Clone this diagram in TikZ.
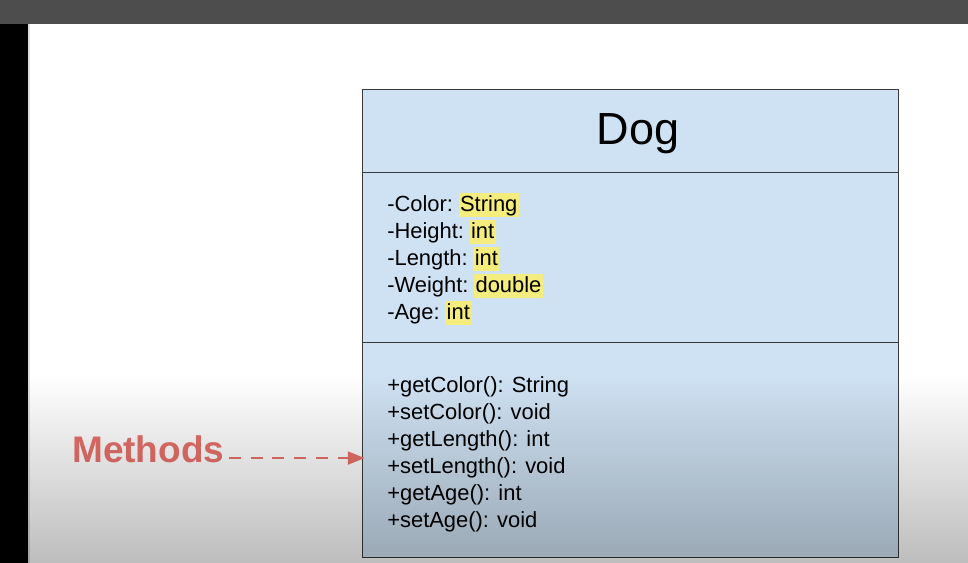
\documentclass[tikz,border=0pt]{standalone}
\usepackage{fontspec}
\setmainfont{Liberation Sans}
\usetikzlibrary{arrows.meta, positioning, fadings}
\definecolor{umlfill}{HTML}{CFE2F3}
\definecolor{umlline}{HTML}{3A3A3A}
\definecolor{hlyellow}{HTML}{F4EC7C}
\definecolor{mred}{HTML}{E8716B}
\definecolor{topbar}{HTML}{4D4D4D}
\newcommand{\hltype}[1]{{\kern-1.8pt\setlength\fboxsep{0pt}\colorbox{hlyellow}{\rule[-3.6pt]{0pt}{16.8pt}\kern1pt#1\kern1pt}}}
\tikzfading[name=fadeup, top color=transparent!100, bottom color=transparent!0]
\tikzset{
  compbox/.style={draw=umlline, fill=umlfill, line width=0.8pt, anchor=north west,
                  minimum width=13.4cm, inner sep=0pt},
  titletext/.style={font=\fontsize{32}{38}\selectfont, anchor=base, inner sep=0pt},
  membtext/.style={font=\fontsize{15.6}{19}\selectfont, anchor=base west, inner sep=0pt},
  lbltext/.style={font=\fontsize{26.3}{31}\selectfont\bfseries, text=mred, anchor=base west, inner sep=0pt},
  darr/.style={-{Triangle[length=12pt, width=9pt]}, mred, line width=1.9pt,
               dash pattern=on 8.5pt off 7pt, shorten >=-2pt},
}

\begin{document}
\begin{tikzpicture}[x=0.025cm, y=-0.025cm]
    % screen frame
    \fill[white] (0,0) rectangle (968,563);
    \fill[topbar] (0,0) rectangle (968,24);
    \fill[black] (0,24) rectangle (28,563);
    \fill[black!13] (28,24) rectangle (29.5,563);

    % class box
    \node[compbox, minimum height=2.075cm] (title) at (362,89) {};
    \node[compbox, minimum height=4.25cm] (attrs) at (362,172) {};
    \node[compbox, minimum height=5.375cm] (methods) at (362,342) {};

    \node[titletext] (dogname) at (638,145) {Dog};

    \node[membtext] (a1) at (387,212) {-Color: \hltype{String}};
    \node[membtext] (a2) at (387,239) {-Height: \hltype{int}};
    \node[membtext] (a3) at (387,266) {-Length: \hltype{int}};
    \node[membtext] (a4) at (387,293) {-Weight: \hltype{double}};
    \node[membtext] (a5) at (387,320) {-Age: \hltype{int}};

    \node[membtext] (m1) at (387,392.5) {+getColor(): String};
    \node[membtext] (m2) at (387,419.5) {+setColor(): void};
    \node[membtext] (m3) at (387,446.5) {+getLength(): int};
    \node[membtext] (m4) at (387,473.5) {+setLength(): void};
    \node[membtext] (m5) at (387,500.5) {+getAge(): int};
    \node[membtext] (m6) at (387,527.5) {+setAge(): void};

    % label
    \node[lbltext] (mlabel) at (72,462.7) {Methods};
    \coordinate[above right=3.3pt and 3pt of mlabel.base east] (mstart);
    \draw[darr] (mstart) -- (mstart -| methods.west);

    % bottom shading of the screen
    \fill[black, fill opacity=0.26, path fading=fadeup] (0,375) rectangle (968,563);
\end{tikzpicture}
\end{document}
